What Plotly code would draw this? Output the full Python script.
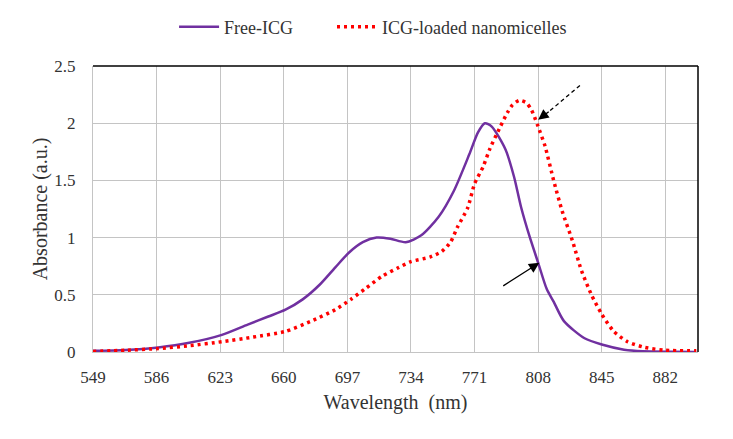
import plotly.graph_objects as go

# ---- data ----
wl_free = [549, 568, 587, 605, 624, 639, 651, 661, 671, 681, 690, 698, 706, 714, 722,
           731, 740, 750, 759, 768, 773, 777, 781, 789, 794, 798, 803, 808, 813,
           817, 823, 835, 845, 858, 869, 885, 900]
abs_free = [0.01, 0.018, 0.04, 0.08, 0.15, 0.24, 0.31, 0.37, 0.46, 0.59, 0.74, 0.87, 0.96, 1.0, 0.99,
            0.96, 1.02, 1.18, 1.41, 1.73, 1.92, 2.0, 1.97, 1.77, 1.53, 1.27, 1.01, 0.78, 0.55,
            0.44, 0.27, 0.12, 0.065, 0.02, 0.006, 0.002, 0.001]

wl_nano = [549, 568, 587, 605, 624, 642, 661, 676, 690, 699, 708, 717, 727, 734, 745, 752,
           757, 761, 767, 771, 776, 780, 786, 790, 793, 797, 801, 804, 806, 808, 812, 817,
           822, 828, 833, 839, 845, 852, 860, 870, 882, 900]
abs_nano = [0.005, 0.015, 0.03, 0.055, 0.09, 0.13, 0.18, 0.27, 0.37, 0.46, 0.56, 0.66, 0.74, 0.79, 0.83, 0.88,
            0.96, 1.09, 1.26, 1.47, 1.62, 1.78, 1.97, 2.09, 2.16, 2.2, 2.18, 2.12, 2.05, 1.97, 1.80, 1.50,
            1.23, 0.97, 0.72, 0.50, 0.33, 0.18, 0.09, 0.04, 0.015, 0.01]

x_ticks = [549, 586, 623, 660, 697, 734, 771, 808, 845, 882]
y_ticks = [0, 0.5, 1, 1.5, 2, 2.5]
y_tick_labels = ["0", "0.5", "1", "1.5", "2", "2.5"]

FONT = "Liberation Serif"
TXT = "#333333"
GRID = "#C4C4C4"

fig = go.Figure()
fig.add_trace(go.Scatter(x=wl_free, y=abs_free, mode="lines", name="Free-ICG", legend="legend",
                         line=dict(color="#7030A0", width=2.5, shape="spline", smoothing=0.7)))
fig.add_trace(go.Scatter(x=wl_nano, y=abs_nano, mode="lines", name="ICG-loaded nanomicelles",
                         legend="legend2",
                         line=dict(color="#FF0000", width=3.5, dash="3px,4px", shape="spline", smoothing=0.6)))

leg_common = dict(orientation="h", xanchor="left", y=1.136, yanchor="middle",
                  font=dict(family=FONT, size=18, color=TXT), itemwidth=40,
                  bgcolor="rgba(0,0,0,0)")
fig.update_layout(
    width=733, height=439,
    margin=dict(l=93, r=35, t=66, b=87, autoexpand=False),
    paper_bgcolor="white", plot_bgcolor="white",
    font=dict(family=FONT, color=TXT, size=17),
    showlegend=True,
    legend=dict(x=0.134, **leg_common),
    legend2=dict(x=0.395, **leg_common),
)
fig.update_xaxes(range=[549, 901], tickvals=x_ticks, ticktext=[str(v) for v in x_ticks],
                 showgrid=True, gridcolor=GRID, gridwidth=1,
                 showline=True, linecolor=GRID, linewidth=1, zeroline=False,
                 ticks="", ticklabelstandoff=10,
                 tickfont=dict(family=FONT, size=17, color=TXT),
                 title=dict(text="Wavelength  (nm)", font=dict(family=FONT, size=20, color=TXT), standoff=8))
fig.update_yaxes(range=[0, 2.5], tickvals=y_ticks, ticktext=y_tick_labels,
                 showgrid=True, gridcolor=GRID, gridwidth=1,
                 showline=True, linecolor=GRID, linewidth=1, zeroline=False,
                 ticks="", ticklabelstandoff=13,
                 tickfont=dict(family=FONT, size=17, color=TXT),
                 title=dict(text="Absorbance (a.u.)", font=dict(family=FONT, size=20, color=TXT), standoff=1))

# black top and right frame
fig.add_shape(type="line", xref="paper", yref="paper", x0=0, x1=1, y0=1, y1=1,
              line=dict(color="black", width=1.5))
fig.add_shape(type="line", xref="paper", yref="paper", x0=1, x1=1, y0=0, y1=1,
              line=dict(color="black", width=1.5))

# dashed arrow toward the nanomicelle peak
fig.add_shape(type="line", xref="x", yref="y", x0=832.3, y0=2.33, x1=815, y1=2.11,
              line=dict(color="black", width=1.3, dash="4px,3px"))
fig.add_annotation(x=808, y=2.03, ax=815, ay=2.11, xref="x", yref="y", axref="x", ayref="y",
                   text="", showarrow=True, arrowhead=2, arrowsize=1.6, arrowwidth=1.3,
                   arrowcolor="black", standoff=0)
# solid arrow toward the free ICG curve
fig.add_annotation(x=808.7, y=0.78, ax=786.8, ay=0.57, xref="x", yref="y", axref="x", ayref="y",
                   text="", showarrow=True, arrowhead=2, arrowsize=1.6, arrowwidth=1.3,
                   arrowcolor="black", standoff=0)

fig.write_html("out.html")
